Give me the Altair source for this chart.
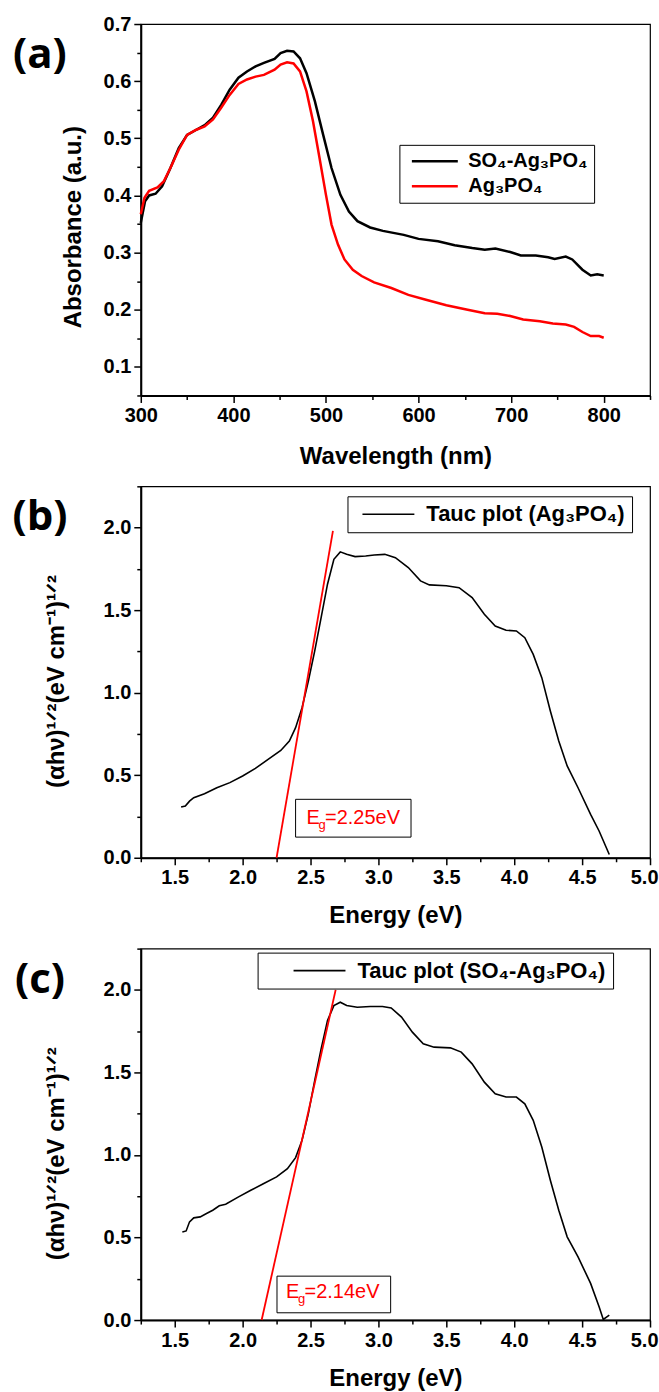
import altair as alt
import pandas as pd

FONT = "Liberation Sans"

# ---------------- (a) UV-vis absorbance ----------------
wl_so4 = [300, 304.6, 309, 316, 323, 332, 341, 350, 360, 369, 378, 387, 396, 405.5, 414.7, 424, 433,
          444.5, 451, 458, 465, 472, 479, 488, 497, 506, 515.6, 524.8, 534, 547.7, 561.5, 584, 600,
          621, 639, 658, 671.5, 683, 699, 710.5, 726.6, 740, 747, 759, 766, 777, 786, 793, 800]
abs_so4 = [0.352, 0.39, 0.40, 0.403, 0.416, 0.448, 0.483, 0.506, 0.515, 0.523, 0.536, 0.559, 0.585,
           0.606, 0.617, 0.626, 0.632, 0.639, 0.649, 0.653, 0.652, 0.640, 0.614, 0.565, 0.506, 0.448,
           0.401, 0.372, 0.355, 0.344, 0.338, 0.331, 0.324, 0.320, 0.313, 0.308, 0.305, 0.307, 0.301,
           0.295, 0.295, 0.292, 0.289, 0.293, 0.288, 0.270, 0.260, 0.262, 0.260]
wl_ag = [300, 304, 309, 318, 325, 332, 341, 350, 360, 369, 378, 387, 396, 405.5, 414.7, 424, 433,
         444.5, 451, 458, 465, 472, 479, 486, 493, 500, 506, 513, 520, 529, 538.5, 552, 570.6, 589,
         607, 630, 653, 671.5, 685, 699, 713, 731, 745, 759, 768, 777, 786, 795, 800]
abs_ag = [0.367, 0.396, 0.408, 0.414, 0.425, 0.448, 0.480, 0.506, 0.515, 0.521, 0.533, 0.554, 0.576,
          0.595, 0.603, 0.608, 0.611, 0.620, 0.629, 0.633, 0.631, 0.617, 0.582, 0.530, 0.466, 0.401,
          0.349, 0.314, 0.288, 0.270, 0.259, 0.248, 0.238, 0.226, 0.218, 0.208, 0.200, 0.194, 0.193,
          0.189, 0.183, 0.180, 0.176, 0.174, 0.170, 0.161, 0.154, 0.154, 0.151]
series_a = ["SO\u2084-Ag\u2083PO\u2084", "Ag\u2083PO\u2084"]

# ---------------- (b) Tauc plot Ag3PO4 ----------------
e_b = [1.547, 1.578, 1.609, 1.64, 1.719, 1.81, 1.906, 2.0, 2.094, 2.1875, 2.281, 2.344, 2.39, 2.4375,
       2.484, 2.531, 2.578, 2.625, 2.672, 2.719, 2.766, 2.828, 2.906, 2.969, 3.047, 3.125, 3.22, 3.31,
       3.375, 3.5, 3.594, 3.69, 3.78, 3.86, 3.94, 4.016, 4.078, 4.14, 4.203, 4.266, 4.328, 4.39, 4.47,
       4.5625, 4.625, 4.70]
tauc_b = [0.307, 0.313, 0.343, 0.364, 0.388, 0.424, 0.455, 0.495, 0.541, 0.596, 0.650, 0.707, 0.788,
          0.909, 1.071, 1.253, 1.455, 1.657, 1.808, 1.853, 1.838, 1.824, 1.828, 1.834, 1.838, 1.818,
          1.758, 1.677, 1.653, 1.648, 1.636, 1.576, 1.475, 1.404, 1.378, 1.374, 1.333, 1.232, 1.091,
          0.889, 0.707, 0.556, 0.424, 0.263, 0.162, 0.02]
series_b = ["Tauc plot (Ag\u2083PO\u2084)"]
tan_b_x = [2.25, 2.665]
tan_b_y = [0.0, 1.98]
box_b = [2.39, 3.24, 0.125, 0.354]
eg_b_x = [2.47, 2.558, 2.607]
eg_b_y = [0.205, 0.175, 0.205]
eg_b_t = ["E", "g", "=2.25eV"]

# ---------------- (c) Tauc plot SO4-Ag3PO4 ----------------
e_c = [1.556, 1.584, 1.609, 1.64, 1.6875, 1.734, 1.78, 1.828, 1.875, 1.97, 2.06, 2.156, 2.25, 2.33,
       2.39, 2.4375, 2.484, 2.531, 2.578, 2.625, 2.672, 2.719, 2.766, 2.844, 2.94, 3.03, 3.094, 3.17,
       3.25, 3.33, 3.41, 3.53, 3.61, 3.69, 3.78, 3.86, 3.94, 4.016, 4.078, 4.14, 4.203, 4.266, 4.328,
       4.39, 4.47, 4.5625, 4.625, 4.656, 4.70]
tauc_c = [0.534, 0.540, 0.595, 0.619, 0.625, 0.645, 0.665, 0.692, 0.702, 0.746, 0.786, 0.827, 0.867,
          0.917, 0.984, 1.089, 1.25, 1.452, 1.643, 1.815, 1.905, 1.925, 1.905, 1.895, 1.899, 1.899,
          1.891, 1.835, 1.744, 1.673, 1.653, 1.649, 1.623, 1.552, 1.441, 1.371, 1.351, 1.351, 1.31,
          1.21, 1.048, 0.847, 0.665, 0.504, 0.383, 0.222, 0.081, 0.004, 0.03]
series_c = ["Tauc plot (SO\u2084-Ag\u2083PO\u2084)"]
tan_c_x = [2.14, 2.685]
tan_c_y = [0.0, 2.0]
box_c = [2.253, 3.09, 0.044, 0.266]
eg_c_x = [2.319, 2.407, 2.456]
eg_c_y = [0.135, 0.105, 0.135]
eg_c_t = ["E", "g", "=2.14eV"]

panel_labels = ["(a)", "(b)", "(c)"]

# tick values
xa_ticks = [300, 350, 400, 450, 500, 550, 600, 650, 700, 750, 800, 850]
ya_ticks = [0.05, 0.1, 0.15, 0.2, 0.25, 0.3, 0.35, 0.4, 0.45, 0.5, 0.55, 0.6, 0.65, 0.7]
xe_ticks = [1.25, 1.5, 1.75, 2.0, 2.25, 2.5, 2.75, 3.0, 3.25, 3.5, 3.75, 4.0, 4.25, 4.5, 4.75, 5.0]
ye_ticks = [0.0, 0.25, 0.5, 0.75, 1.0, 1.25, 1.5, 1.75, 2.0, 2.25]

W, H = 510, 372


def mk_axis(values, test, fmt, title, orient, tx, ty, edge=None):
    kw = dict(values=values, format=fmt, labelExpr=f"({test}) ? datum.label : ''",
              tickSize={"condition": {"test": test, "value": 7}, "value": 4},
              tickColor="black", tickWidth=1.5, domainColor="black", domainWidth=2,
              labelFont=FONT, labelFontSize=20, labelFontWeight="bold", labelColor="black",
              labelPadding=3, labelFlush=False, labelOverlap=False, grid=False,
              title=title, titleFont=FONT, titleFontSize=24, titleFontWeight="bold",
              titleColor="black", titleBaseline="middle", titleAlign="center",
              titleX=tx, titleY=ty, orient=orient)
    if orient == "left":
        kw["titleAngle"] = 270
    if edge is not None:
        # keep the right-most label inside the page
        kw["labelAlign"] = {"condition": {"test": f"datum.value >= {edge}", "value": "right"}, "value": "center"}
        kw["labelOffset"] = {"condition": {"test": f"datum.value >= {edge}", "value": 8}, "value": 0}
    return alt.Axis(**kw)


def panel_label(idx):
    df = pd.DataFrame({"t": [panel_labels[idx]]})
    return alt.Chart(df).mark_text(font="Open Sans", fontWeight="bold", fontSize=42,
                                   align="center", baseline="middle", color="black").encode(
        x=alt.value(-101), y=alt.value(31), text="t:N")


# ---------- panel (a) ----------
df_a = pd.concat([
    pd.DataFrame({"wl": wl_so4, "A": abs_so4, "s": series_a[0]}),
    pd.DataFrame({"wl": wl_ag, "A": abs_ag, "s": series_a[1]}),
])
xa = alt.X("wl:Q", scale=alt.Scale(domain=[300, 850], nice=False, zero=False),
           axis=mk_axis(xa_ticks, "round(datum.value) % 100 == 0", "d", "Wavelength (nm)", "bottom", W / 2, 61))
ya = alt.Y("A:Q", scale=alt.Scale(domain=[0.05, 0.7], nice=False, zero=False),
           axis=mk_axis(ya_ticks, "round(datum.value*100) % 10 == 0", ".1f", "Absorbance (a.u.)", "left", -67, 203))
lines_a = alt.Chart(df_a).mark_line(strokeWidth=2.5).encode(
    x=xa, y=ya,
    color=alt.Color("s:N", scale=alt.Scale(domain=series_a, range=["#000000", "#ff0000"]),
                    legend=alt.Legend(title=None, orient="none", legendX=259, legendY=121,
                                      strokeColor="black", fillColor="white", padding=6,
                                      symbolType="stroke", symbolSize=46 * 46, symbolStrokeWidth=2.5,
                                      symbolOffset=5, clipHeight=21, labelFont=FONT,
                                      labelFontWeight="bold", labelFontSize=20, labelColor="black",
                                      labelOffset=9, rowPadding=4, labelLimit=0)),
    detail="s:N", order=alt.Order("wl:Q"))
chart_a = alt.layer(lines_a, panel_label(0)).properties(width=W, height=H)


def tauc_panel(idx, e, t, series, tx, ty, box, egx, egy, egt, legx, legy, symoff, ytitle_y, xtitle_y):
    xs = alt.Scale(domain=[1.25, 5.0], nice=False, zero=False)
    ys = alt.Scale(domain=[0, 2.25], nice=False, zero=False)
    xe = alt.X("E:Q", scale=xs,
               axis=mk_axis(xe_ticks, "round(datum.value*100) % 50 == 0", ".1f", "Energy (eV)", "bottom",
                            W / 2, xtitle_y, edge=4.99))
    ye = alt.Y("T:Q", scale=ys,
               axis=mk_axis(ye_ticks, "round(datum.value*100) % 50 == 0", ".1f",
                            "(\u03b1h\u03bd)\u00b9\u141f\u00b2(eV cm\u207b\u00b9)\u00b9\u141f\u00b2", "left", -84, ytitle_y))
    df = pd.DataFrame({"E": e, "T": t, "s": series[0]})
    curve = alt.Chart(df).mark_line(strokeWidth=1.6).encode(
        x=xe, y=ye, order=alt.Order("E:Q"),
        color=alt.Color("s:N", scale=alt.Scale(domain=series, range=["#000000"]),
                        legend=alt.Legend(title=None, orient="none", legendX=legx, legendY=legy,
                                          strokeColor="black", fillColor="white", padding=7,
                                          symbolType="stroke", symbolSize=52 * 52, symbolStrokeWidth=1.6,
                                          symbolOffset=symoff, clipHeight=22, labelFont=FONT,
                                          labelFontWeight="bold", labelFontSize=22, labelColor="black",
                                          labelOffset=11, labelLimit=0)))
    tdf = pd.DataFrame({"E": tx, "T": ty})
    tangent = alt.Chart(tdf).mark_line(strokeWidth=1.8, color="#ff0000").encode(x=xe, y=ye)
    bdf = pd.DataFrame({"E": [box[0]], "E2": [box[1]], "T": [box[2]], "T2": [box[3]]})
    rect = alt.Chart(bdf).mark_rect(fill="white", stroke="black", strokeWidth=1).encode(
        x=xe, x2="E2:Q", y=ye, y2="T2:Q")
    edf = pd.DataFrame({"E": egx, "T": egy, "txt": egt, "fs": [20, 13, 20]})
    eg = alt.Chart(edf).mark_text(font=FONT, color="#ff0000", align="left", baseline="alphabetic").encode(
        x=xe, y=ye, text="txt:N",
        size=alt.Size("fs:Q", scale=None, legend=None))
    return alt.layer(curve, tangent, rect, eg, panel_label(idx)).properties(width=W, height=H)


chart_b = tauc_panel(1, e_b, tauc_b, series_b, tan_b_x, tan_b_y, box_b, eg_b_x, eg_b_y, eg_b_t,
                     207, 10, 7, 195, 58)
chart_c = tauc_panel(2, e_c, tauc_c, series_c, tan_c_x, tan_c_y, box_c, eg_c_x, eg_c_y, eg_c_t,
                     117, 4, 28, 205, 59)

chart = alt.vconcat(chart_a, chart_b, chart_c, spacing=91, bounds="flush").resolve_scale(
    color="independent").resolve_legend(color="independent").properties(
    padding={"left": 11, "top": 12, "right": 0, "bottom": 0}, background="white"
).configure_view(stroke="black", strokeWidth=1.2)

chart.save("out.html", embed_options={"renderer": "svg", "actions": False})
